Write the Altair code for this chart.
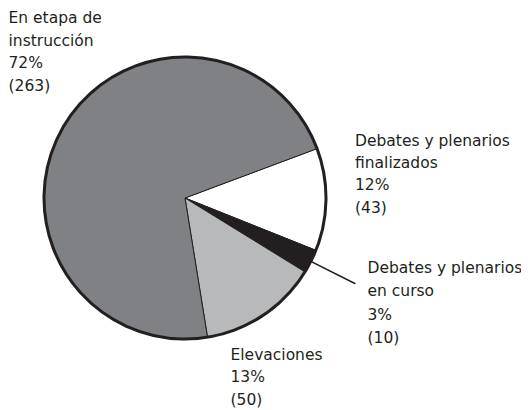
import math
import altair as alt
import pandas as pd

# ---- data ----
categorias = [
    "Debates y plenarios\nfinalizados",
    "Debates y plenarios\nen curso",
    "Elevaciones",
    "En etapa de\ninstrucción",
]
valores = [43, 10, 50, 263]
porcentajes = [12, 3, 13, 72]
colores = ["#ffffff", "#231f20", "#b8b9bb", "#808184"]

df = pd.DataFrame({
    "categoria": categorias,
    "valor": valores,
    "pct": porcentajes,
    "orden": list(range(len(categorias))),
})
df["etiqueta"] = df["categoria"] + "\n" + df["pct"].astype(str) + "%\n(" + df["valor"].astype(str) + ")"

INK = "#231f20"
CX, CY, R = 177, 190, 141
start = math.radians(69.5)
theta_scale = alt.Scale(range=[start, start + 2 * math.pi])

base = alt.Chart(df)

slices = base.mark_arc(stroke=INK, strokeWidth=1, radius=R).encode(
    theta=alt.Theta("valor:Q", stack=True, scale=theta_scale),
    order=alt.Order("orden:Q"),
    color=alt.Color("categoria:N", scale=alt.Scale(domain=categorias, range=colores), legend=None),
    x=alt.value(CX), y=alt.value(CY),
)

outline = base.transform_aggregate(total="sum(valor)").mark_arc(
    fillOpacity=0, stroke=INK, strokeWidth=3, radius=R
).encode(
    theta=alt.Theta("total:Q", stack=True, scale=theta_scale),
    x=alt.value(CX), y=alt.value(CY),
)

leader = base.transform_window(
    acum="sum(valor)", sort=[alt.SortField("orden")], frame=[None, 0]
).transform_calculate(
    mid="datum.acum - datum.valor / 2",
    mid2="datum.acum - datum.valor / 2 + 0.01",
).transform_filter(
    alt.datum.orden == 1
).mark_arc(fill=INK, stroke=INK, strokeWidth=1.5).encode(
    theta=alt.Theta("mid:Q", scale=theta_scale),
    theta2="mid2:Q",
    radius=alt.value(190),
    radius2=alt.value(141),
    x=alt.value(CX), y=alt.value(CY),
)

def label(idx, x, y, lh):
    return base.transform_filter(alt.datum.orden == idx).mark_text(
        align="left", baseline="alphabetic", lineBreak="\n",
        font="DejaVu Sans", fontSize=15.5, lineHeight=lh, color=INK,
    ).encode(
        text="etiqueta:N", x=alt.value(x), y=alt.value(y),
    )

chart = alt.layer(
    slices, outline, leader,
    label(3, 0.5, 15.3, 22.5),
    label(0, 347, 137.7, 22.3),
    label(1, 359.5, 264.7, 23.5),
    label(2, 222.5, 352, 22.3),
).properties(
    width=513, height=402,
    autosize=alt.AutoSizeParams(type="none"),
    padding=0,
    background="white",
).configure_view(stroke=None)

chart.save("out.html", embed_options={"renderer": "svg", "actions": False})
